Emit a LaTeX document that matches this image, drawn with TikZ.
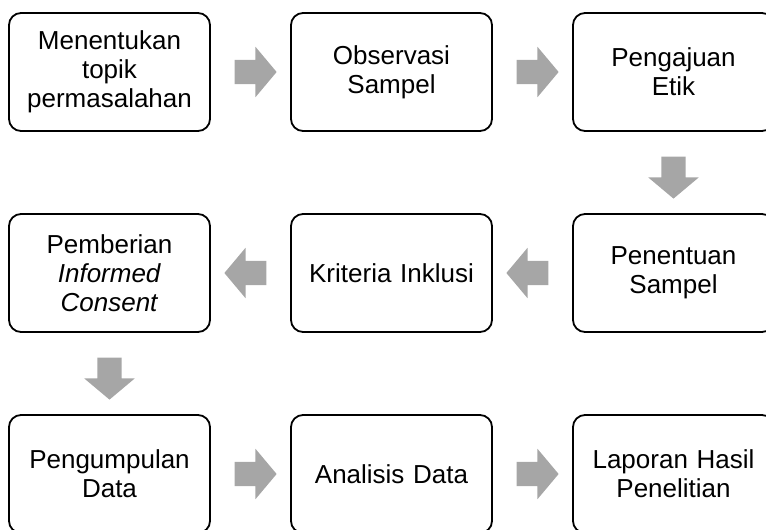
\documentclass[tikz,border=0pt]{standalone}
\usepackage{fontspec}
\setmainfont{Liberation Sans}
\usepackage{tikz}
\usetikzlibrary{shapes.arrows, calc}
\definecolor{mygrey}{RGB}{166,166,166}
\definecolor{mydark}{RGB}{0,0,0}
\tikzset{
  stepbox/.style={rectangle, draw=mydark, fill=white,
    minimum width=201pt, minimum height=118pt, text width=194pt,
    align=center, rounded corners=12pt, line width=1.8pt,
    font=\fontsize{26}{29}\selectfont},
  flowarrow/.style={single arrow, fill=mygrey, draw=none,
    inner sep=0pt, inner ysep=12pt, minimum height=42pt,
    single arrow head extend=13pt, single arrow tip angle=100,
    single arrow head indent=0pt},
  downarrow/.style={flowarrow, inner xsep=12pt, inner ysep=0pt,
    shape border rotate=270}
}
\begin{document}
\begin{tikzpicture}[x=1pt, y=-1pt]
  \clip (0,0) rectangle (766,530);
  % row 1
  \node[stepbox] (topik) at (109.5,72) {Menentukan\\topik\\permasalahan};
  \node[stepbox] (obs) at (391.5,72) {Observasi\\Sampel};
  \node[stepbox] (etik) at (673.5,72) {Pengajuan\\Etik};
  % row 2
  \node[stepbox] (consent) at (109.5,273) {Pemberian\\\textit{Informed}\\\textit{Consent}};
  \node[stepbox] (kriteria) at (391.5,273) {Kriteria Inklusi};
  \node[stepbox] (sampel) at (673.5,273) {Penentuan\\Sampel};
  % row 3
  \node[stepbox] (kumpul) at (109.5,474) {Pengumpulan\\Data};
  \node[stepbox] (analisis) at (391.5,474) {Analisis Data};
  \node[stepbox] (laporan) at (673.5,474) {Laporan Hasil\\Penelitian};

  \node[flowarrow] (a1) at ($(topik.east)!0.5!(obs.west)$) {};
  \node[flowarrow] (a2) at ($(obs.east)!0.5!(etik.west)$) {};
  \node[downarrow] (a3) at ($(etik.south)!0.5!(sampel.north)$) {};
  \node[flowarrow, shape border rotate=180] (a4) at ($(sampel.west)!0.5!(kriteria.east)$) {};
  \node[flowarrow, shape border rotate=180] (a5) at ($(kriteria.west)!0.5!(consent.east)$) {};
  \node[downarrow] (a6) at ($(consent.south)!0.5!(kumpul.north)$) {};
  \node[flowarrow] (a7) at ($(kumpul.east)!0.5!(analisis.west)$) {};
  \node[flowarrow] (a8) at ($(analisis.east)!0.5!(laporan.west)$) {};
\end{tikzpicture}
\end{document}
